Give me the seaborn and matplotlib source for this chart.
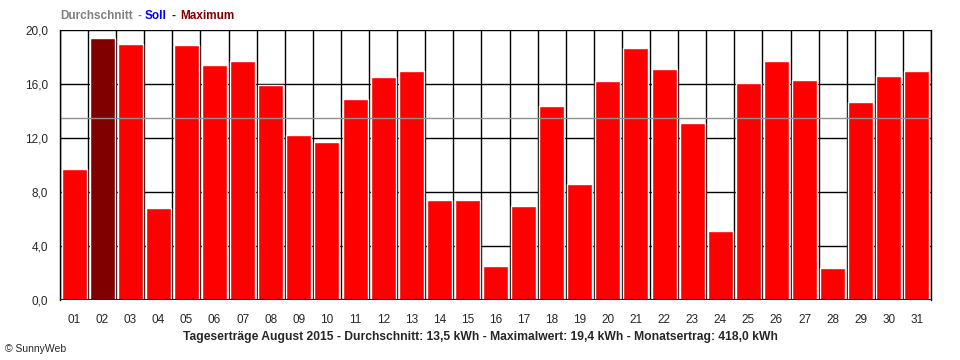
import numpy as np
import pandas as pd
import matplotlib.pyplot as plt
import seaborn as sns
from matplotlib.ticker import FixedLocator, FuncFormatter

# daily yields, August 2015 (kWh)
days = [f"{d:02d}" for d in range(1, 32)]
yields = [9.7, 19.4, 19.0, 6.8, 18.9, 17.4, 17.7, 15.9, 12.2, 11.7,
          14.9, 16.5, 17.0, 7.4, 7.4, 2.5, 7.0, 14.4, 8.6, 16.2,
          18.7, 17.1, 13.1, 5.1, 16.1, 17.7, 16.3, 2.4, 14.7, 16.6, 17.0]
average = 13.5
max_value = 19.4
month_total = 418.0
y_ticks = [0, 4, 8, 12, 16, 20]

df = pd.DataFrame({"day": days, "kwh": yields})
colors = ["#800000" if v == max_value else "#ff0000" for v in yields]

sns.set_style("white")
plt.rcParams['font.family'] = ['Liberation Sans', 'DejaVu Sans']

fig = plt.figure(figsize=(9.6, 3.6), dpi=100)
ax = fig.add_axes([60 / 960, 60 / 360, 871 / 960, 270 / 360])

sns.barplot(data=df, x="day", y="kwh", hue="day", palette=colors,
            legend=False, width=0.89, saturation=1, ax=ax)

ax.set_xlim(-0.5, len(days) - 0.5)
ax.set_ylim(0, 20)

# grid at day boundaries and every 4 kWh
ax.set_axisbelow(True)
ax.xaxis.set_minor_locator(FixedLocator(np.arange(-0.5, len(days), 1)))
ax.grid(which="minor", axis="x", color="black", linewidth=1)
ax.set_yticks(y_ticks)
ax.grid(which="major", axis="y", color="black", linewidth=1)
ax.yaxis.set_major_formatter(FuncFormatter(lambda v, p: f"{v:.1f}".replace(".", ",")))

ax.tick_params(axis="x", which="major", length=0, labelsize=8.5, pad=10)
ax.tick_params(axis="x", which="minor", length=5, width=1, color="black", direction="out")
ax.tick_params(axis="y", length=5, width=1, color="black", direction="out", labelsize=8.5)

# average and target line
ax.axhline(average, color="#909090", linewidth=1)
ax.axhline(0, color="#0000ff", linewidth=1.5, zorder=5)

for side in ["left", "right"]:
    ax.spines[side].set_color("black")
    ax.spines[side].set_linewidth(1)
ax.spines["top"].set_visible(False)
ax.spines["bottom"].set_visible(False)
ax.set_xlabel("")
ax.set_ylabel("")

# legend text at top left
legend_y = 1 - 16 / 360
fig.text(60 / 960, legend_y, "Durchschnitt", color="#808080", fontsize=8.5,
         fontweight="bold", va="center")
fig.text(137 / 960, legend_y, "-", color="#808080", fontsize=8.5,
         fontweight="bold", va="center")
fig.text(145 / 960, legend_y, "Soll", color="#0000ff", fontsize=8.5,
         fontweight="bold", va="center")
fig.text(171 / 960, legend_y, "-", color="#0000ff", fontsize=8.5,
         fontweight="bold", va="center")
fig.text(180 / 960, legend_y, "Maximum", color="#800000", fontsize=8.5,
         fontweight="bold", va="center")

caption = (f"Tageserträge August 2015 - Durchschnitt: {average:.1f} kWh - "
           f"Maximalwert: {max_value:.1f} kWh - Monatsertrag: {month_total:.1f} kWh").replace(".", ",")
fig.text(480 / 960, 1 - 337 / 360, caption, fontsize=8.75, fontweight="bold",
         ha="center", va="center")
fig.text(5 / 960, 1 - 349 / 360, "© SunnyWeb", fontsize=7.5, va="center")

fig.savefig("out.png", dpi=100)
